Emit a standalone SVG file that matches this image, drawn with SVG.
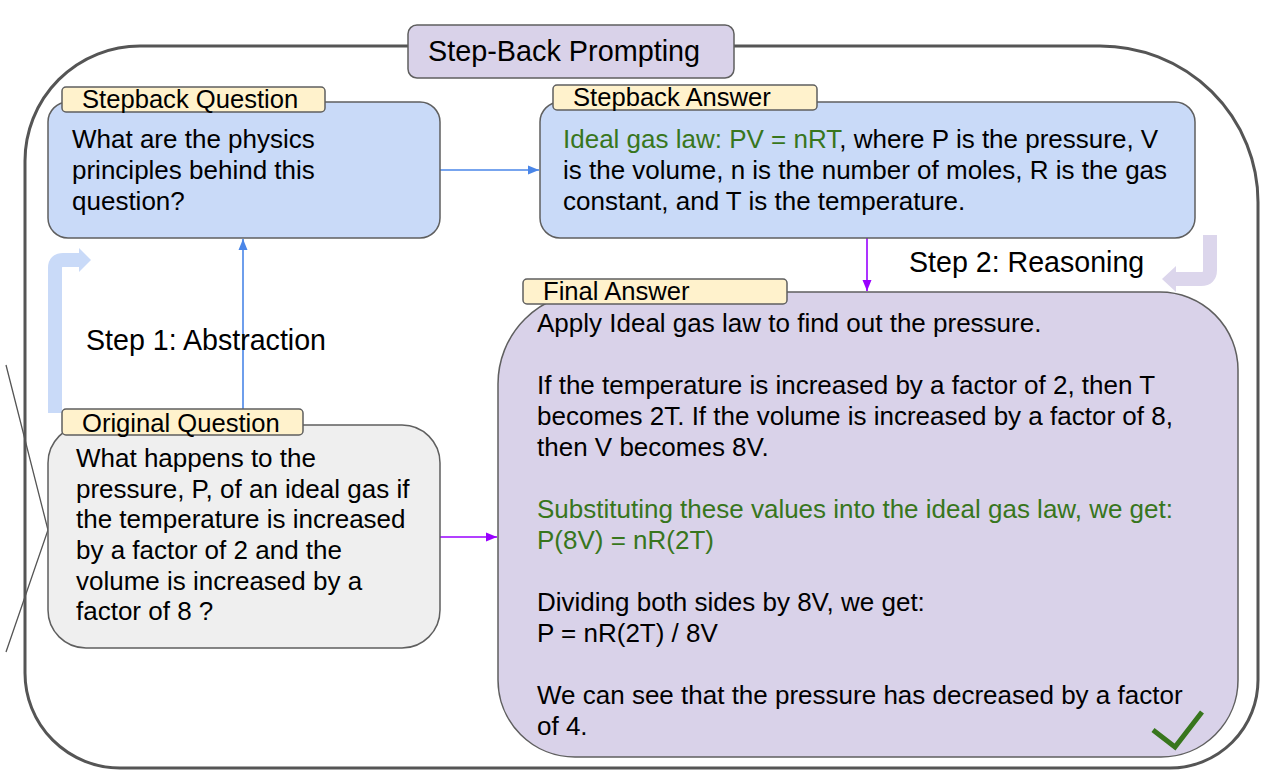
<svg xmlns="http://www.w3.org/2000/svg" width="1275" height="770" viewBox="0 0 1275 770">
  <defs>
    <style>
      text { font-family: "Liberation Sans", Arial, sans-serif; fill: #000; }
      .body { font-size: 26px; }
      .tag { font-size: 25.6px; }
      .step { font-size: 28.6px; }
      .title { font-size: 28.8px; }
      .green { fill: #38761d; }
      .box { stroke: #5f5f5f; stroke-width: 1.5; }
      .blue { fill: #c9daf8; }
      .grey { fill: #efefef; }
      .lav { fill: #d9d2e9; }
      .label { fill: #fff2cc; stroke: #5f5f5f; stroke-width: 1.5; }
      .edge { fill: none; stroke-width: 1.6; }
    </style>
    <marker id="headBlue" markerUnits="userSpaceOnUse" markerWidth="12" markerHeight="12" viewBox="0 0 12 12" refX="11" refY="6" orient="auto">
      <path d="M0,1.5 L11,6 L0,10.5 Z" fill="#4a86e8"/>
    </marker>
    <marker id="headPurple" markerUnits="userSpaceOnUse" markerWidth="12" markerHeight="12" viewBox="0 0 12 12" refX="11" refY="6" orient="auto">
      <path d="M0,1.5 L11,6 L0,10.5 Z" fill="#9900ff"/>
    </marker>
  </defs>

  <rect width="1275" height="770" fill="#ffffff"/>

  <!-- outer frame -->
  <path d="M140,46 H1100 A158 156 0 0 1 1258,202 V680 A88 88 0 0 1 1170,768 H120 A95 95 0 0 1 25,673 V161 A115 115 0 0 1 140,46 Z" fill="none" stroke="#555555" stroke-width="3"/>

  <!-- stray sketch lines on the left -->
  <path d="M6,365 L48,530 L6,652" fill="none" stroke="#555555" stroke-width="1.3"/>

  <!-- decorative bent arrows -->
  <g id="bend-abstraction" fill="#c9daf8">
    <path d="M55,413 V268 Q55,260 63,260 H82" fill="none" stroke="#c9daf8" stroke-width="14"/>
    <polygon points="79,248 91,260 79,272"/>
  </g>
  <g id="bend-reasoning" fill="#dcd6ec">
    <path d="M1210,235 V270 Q1210,279 1201,279 H1174" fill="none" stroke="#dcd6ec" stroke-width="14"/>
    <polygon points="1176,266 1162,279 1176,292"/>
  </g>

  <!-- title -->
  <g id="title">
    <rect x="408" y="25" width="326" height="53" rx="9" class="box lav"/>
    <text x="428" y="61" class="title">Step-Back Prompting</text>
  </g>

  <!-- connectors -->
  <g id="connectors">
    <line x1="440" y1="170" x2="539" y2="170" class="edge" stroke="#4a86e8" marker-end="url(#headBlue)"/>
    <line x1="243" y1="410" x2="243" y2="239" class="edge" stroke="#4a86e8" marker-end="url(#headBlue)"/>
    <line x1="867" y1="238" x2="867" y2="291" class="edge" stroke="#9900ff" marker-end="url(#headPurple)"/>
    <line x1="440" y1="537" x2="497" y2="537" class="edge" stroke="#9900ff" marker-end="url(#headPurple)"/>
  </g>

  <!-- step captions -->
  <text x="86" y="350" class="step">Step 1: Abstraction</text>
  <text x="909" y="272" class="step">Step 2: Reasoning</text>

  <!-- stepback question -->
  <g id="stepback-question">
    <rect x="48" y="102" width="392" height="136" rx="20" class="box blue"/>
    <rect x="62" y="87" width="263" height="25" rx="4" class="label"/>
    <text x="82" y="108" class="tag">Stepback Question</text>
    <text class="body">
      <tspan x="72" y="148">What are the physics</tspan>
      <tspan x="72" y="179">principles behind this</tspan>
      <tspan x="72" y="210">question?</tspan>
    </text>
  </g>

  <!-- stepback answer -->
  <g id="stepback-answer">
    <rect x="540" y="102" width="655" height="136" rx="20" class="box blue"/>
    <rect x="553" y="85" width="264" height="25" rx="4" class="label"/>
    <text x="573" y="106" class="tag">Stepback Answer</text>
    <text class="body">
      <tspan x="563" y="148"><tspan class="green">Ideal gas law: PV = nRT</tspan>, where P is the pressure, V</tspan>
      <tspan x="563" y="179">is the volume, n is the number of moles, R is the gas</tspan>
      <tspan x="563" y="210">constant, and T is the temperature.</tspan>
    </text>
  </g>

  <!-- original question -->
  <g id="original-question">
    <rect x="48" y="425" width="392" height="223" rx="38" class="box grey"/>
    <rect x="62" y="409" width="241" height="26" rx="4" class="label"/>
    <text x="82" y="432" class="tag">Original Question</text>
    <text class="body">
      <tspan x="76" y="467">What happens to the</tspan>
      <tspan x="76" y="498">pressure, P, of an ideal gas if</tspan>
      <tspan x="76" y="528">the temperature is increased</tspan>
      <tspan x="76" y="559">by a factor of 2 and the</tspan>
      <tspan x="76" y="590">volume is increased by a</tspan>
      <tspan x="76" y="620">factor of 8 ?</tspan>
    </text>
  </g>

  <!-- final answer -->
  <g id="final-answer">
    <path d="M590,292 H1160 A78 78 0 0 1 1238,370 V680 A77 77 0 0 1 1161,757 H575 A77 77 0 0 1 498,680 V384 A92 92 0 0 1 590,292 Z" class="box lav"/>
    <rect x="523" y="279" width="264" height="25" rx="4" class="label"/>
    <text x="543" y="300" class="tag">Final Answer</text>
    <text class="body">
      <tspan x="537" y="332">Apply Ideal gas law to find out the pressure.</tspan>
      <tspan x="537" y="394">If the temperature is increased by a factor of 2, then T</tspan>
      <tspan x="537" y="425">becomes 2T. If the volume is increased by a factor of 8,</tspan>
      <tspan x="537" y="456">then V becomes 8V.</tspan>
      <tspan x="537" y="518" class="green">Substituting these values into the ideal gas law, we get:</tspan>
      <tspan x="537" y="549" class="green">P(8V) = nR(2T)</tspan>
      <tspan x="537" y="611">Dividing both sides by 8V, we get:</tspan>
      <tspan x="537" y="642">P = nR(2T) / 8V</tspan>
      <tspan x="537" y="704">We can see that the pressure has decreased by a factor</tspan>
      <tspan x="537" y="735">of 4.</tspan>
    </text>
    <polyline points="1153,730 1175,747 1202,712" fill="none" stroke="#38761d" stroke-width="5"/>
  </g>
</svg>
